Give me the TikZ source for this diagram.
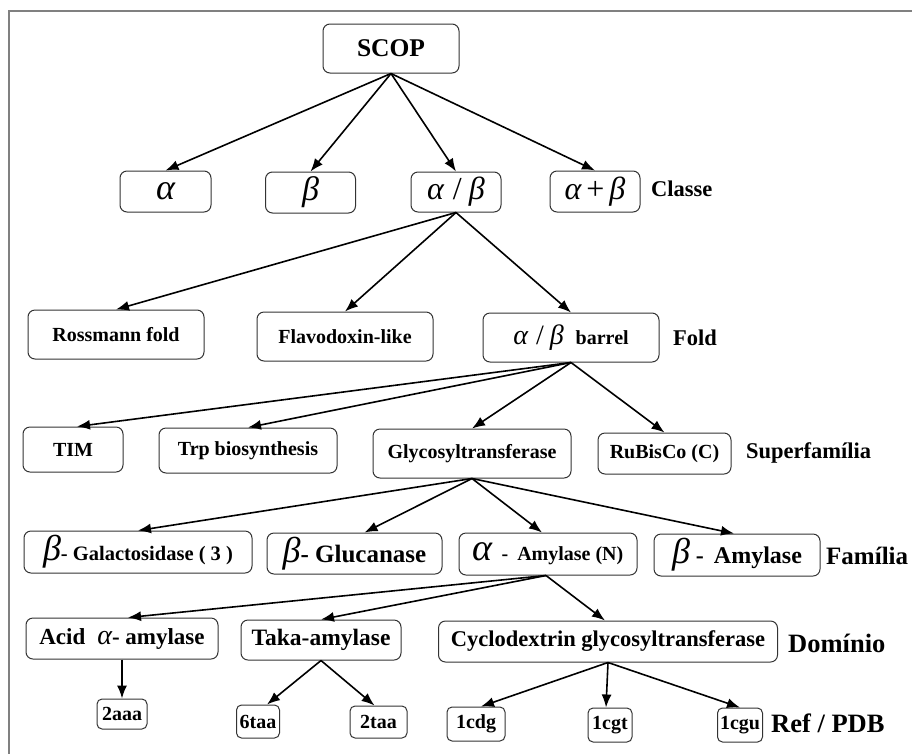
\documentclass[tikz,border=0pt]{standalone}
\usepackage{fontspec}
\setmainfont{Liberation Serif}
\usetikzlibrary{arrows.meta}
% font size helper and italic Greek helper
\newcommand{\fsz}[1]{\fontsize{#1pt}{#1pt}\selectfont}
\newcommand{\grk}[2]{{\fsz{#1}\mdseries\itshape #2}}

\begin{document}
\begin{tikzpicture}[x=1pt,y=-1pt,
  box/.style={draw=black!80, line width=1pt, rounded corners=7pt, inner sep=0pt,
              font=\bfseries\fsz{20}, align=center},
  lvl/.style={anchor=west, inner sep=0pt, font=\bfseries\fsz{22.5}},
  lvlbig/.style={lvl, font=\bfseries\fsz{26.5}},
  link/.style={-{Latex[length=13pt,width=10pt]}, line width=1.6pt}
]
\useasboundingbox (0,0) rectangle (912,753);
\fill[white] (0,0) rectangle (912,753);
% outer frame
\draw[black!50, line width=1.5pt] (9,770) -- (9,11) -- (930,11);

% root
\node[box, minimum width=136pt, minimum height=49pt, font=\bfseries\fsz{25.5}] (scop) at (391,48.5) {SCOP};

% classes
\node[box, minimum width=91pt, minimum height=41pt] (ca)   at (165.5,191.5) {\grk{36}{α}};
\node[box, minimum width=90pt, minimum height=41pt] (cb)   at (310.5,192.5) {\grk{34}{β}};
\node[box, minimum width=90pt, minimum height=40pt] (cab)  at (456,192)     {\grk{32}{α\hspace{9pt}{\upshape /}\hspace{7pt}β}};
\node[box, minimum width=90pt, minimum height=41pt] (capb) at (595,191.5)   {\grk{32}{α\hspace{5pt}{\upshape +}\hspace{5pt}β}};
\node[lvl] (lclass) at (651,189) {Classe};

% folds
\node[box, minimum width=176pt, minimum height=49pt] (ross)   at (116,334.5) {Rossmann fold};
\node[box, minimum width=176pt, minimum height=49pt] (flav)   at (345,336.5) {Flavodoxin-like};
\node[box, minimum width=176pt, minimum height=49pt] (barrel) at (571,337.5) {\grk{28}{α\hspace{8pt}{\upshape /}\hspace{6pt}β}\hspace{12pt}barrel};
\node[lvl] (lfold) at (673,338) {Fold};

% superfamilies
\node[box, minimum width=100pt, minimum height=45pt] (tim)   at (73,449.5)  {TIM};
\node[box, minimum width=178pt, minimum height=45pt] (trp)   at (248,450.5) {Trp biosynthesis};
\node[box, minimum width=198pt, minimum height=49pt] (glyco) at (472,453.5) {Glycosyltransferase};
\node[box, minimum width=133pt, minimum height=41pt] (rub)   at (664.5,453.5) {RuBisCo (C)};
\node[lvl] (lsuper) at (746,453) {Superfamília};

% families
\node[box, minimum width=228pt, minimum height=42pt] (gal)  at (138,552)   {\grk{36}{β}{\fsz{20.5}- Galactosidase ( 3 )}};
\node[box, minimum width=175pt, minimum height=41pt] (gluc) at (354.5,553.5) {\grk{36}{β}{\fsz{25}- Glucanase}};
\node[box, minimum width=178pt, minimum height=42pt] (aamy) at (548,554)   {\grk{38}{α}\hspace{9pt}-\hspace{9pt}Amylase (N)};
\node[box, minimum width=166pt, minimum height=42pt] (bamy) at (737,555)   {\grk{36}{β}\hspace{6pt}{\fsz{24}-\hspace{10pt}Amylase}};
\node[lvl, font=\bfseries\fsz{25}] (lfam) at (826,556) {Família};

% domains
\node[box, minimum width=192pt, minimum height=41pt, font=\bfseries\fsz{23}] (acid)  at (122,638.5) {Acid\hspace{12pt}\grk{28}{α}- amylase};
\node[box, minimum width=160pt, minimum height=40pt, font=\bfseries\fsz{23.5}] (taka) at (321,640) {Taka-amylase};
\node[box, minimum width=339pt, minimum height=41pt, font=\bfseries\fsz{22.5}] (cyclo) at (608,641.5) {Cyclodextrin glycosyltransferase};
\node[lvlbig] (ldom) at (788,643) {Domínio};

% PDB entries
\node[box, minimum width=50pt, minimum height=30pt, rounded corners=5pt] (p2aaa) at (122,714)   {2aaa};
\node[box, minimum width=43pt, minimum height=33pt, rounded corners=5pt] (p6taa) at (258,721.5) {6taa};
\node[box, minimum width=57pt, minimum height=32pt, rounded corners=5pt] (p2taa) at (378.5,722) {2taa};
\node[box, minimum width=58pt, minimum height=34pt, rounded corners=5pt] (p1cdg) at (476,724)   {1cdg};
\node[box, minimum width=44pt, minimum height=34pt, rounded corners=5pt] (p1cgt) at (610,725)   {1cgt};
\node[box, minimum width=45pt, minimum height=34pt, rounded corners=5pt] (p1cgu) at (740,725)   {1cgu};
\node[lvlbig] (lpdb) at (771,723) {Ref / PDB};

% connectors
\draw[link] (scop.south) -- (ca.north);
\draw[link] (scop.south) -- (cb.north);
\draw[link] (scop.south) -- (cab.north);
\draw[link] (scop.south) -- (capb.north);

\draw[link] (cab.south) -- (ross.north);
\draw[link] (cab.south) -- (flav.north);
\draw[link] (cab.south) -- (barrel.north);

\draw[link] (barrel.south) -- ([xshift=4pt]tim.north);
\draw[link] (barrel.south) -- (trp.north);
\draw[link] (barrel.south) -- (glyco.north);
\draw[link] (barrel.south) -- (rub.north);

\draw[link] (glyco.south) -- (gal.north);
\draw[link] (glyco.south) -- ([xshift=10pt]gluc.north);
\draw[link] (glyco.south) -- ([xshift=-6pt]aamy.north);
\draw[link] (glyco.south) -- ([xshift=-3pt]bamy.north);

\draw[link] ([xshift=-2pt]aamy.south) -- ([xshift=6pt]acid.north);
\draw[link] ([xshift=-2pt]aamy.south) -- (taka.north);
\draw[link] ([xshift=-2pt]aamy.south) -- ([xshift=-3pt]cyclo.north);

\draw[link] (acid.south) -- (p2aaa.north);
\draw[link] (taka.south) -- ([xshift=9pt]p6taa.north);
\draw[link] (taka.south) -- ([xshift=-4pt]p2taa.north);
\draw[link] (cyclo.south) -- ([xshift=5pt]p1cdg.north);
\draw[link] (cyclo.south) -- ([xshift=-4pt]p1cgt.north);
\draw[link] (cyclo.south) -- (p1cgu.north);
\end{tikzpicture}
\end{document}
